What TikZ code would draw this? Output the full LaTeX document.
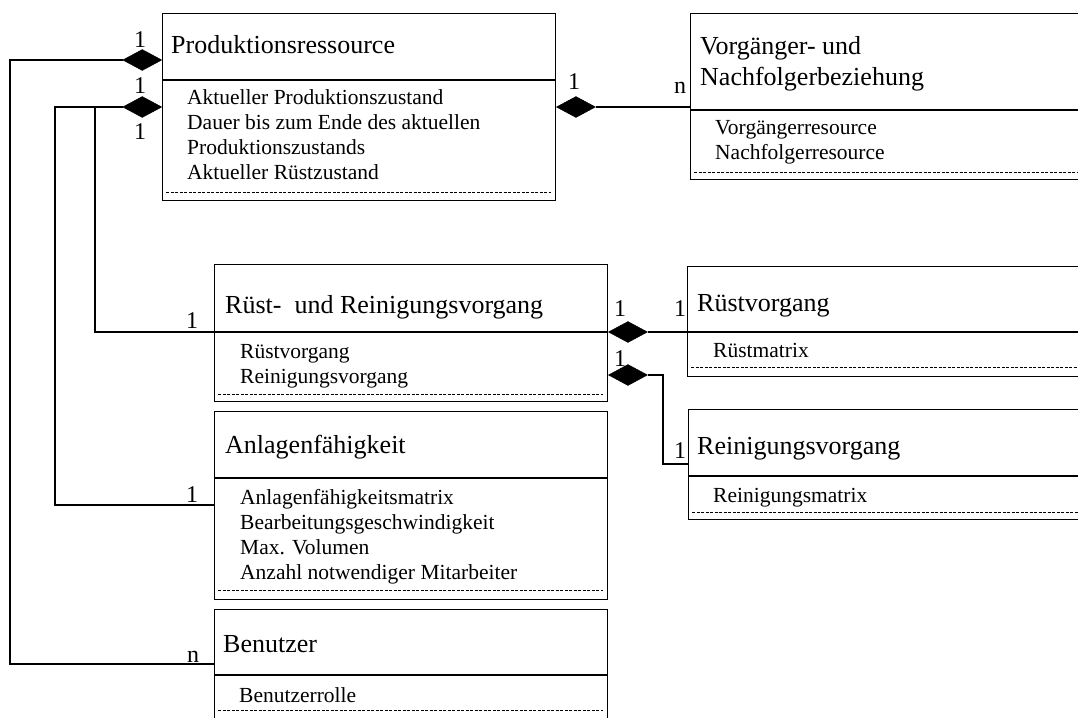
\documentclass[tikz,border=0pt]{standalone}
\usepackage{fontspec}
\setmainfont{Liberation Serif}
\usetikzlibrary{shapes.geometric}
\begin{document}
\begin{tikzpicture}[x=1pt,y=-1pt,
  box/.style={draw=black, line width=1.2pt, rectangle, anchor=north west, inner sep=0pt},
  divline/.style={draw=black, line width=1.2pt},
  dashline/.style={draw=black, line width=1pt, dash pattern=on 3pt off 1.5pt},
  conn/.style={draw=black, line width=2pt},
  dia/.style={diamond, fill=black, draw=black, line width=0.5pt, inner sep=0pt, minimum width=39pt, minimum height=21pt},
  ttl/.style={anchor=base west, inner sep=0pt, font=\fontsize{26}{31}\selectfont, align=left},
  attr/.style={anchor=base west, inner sep=0pt, font=\fontsize{21.5}{25}\selectfont},
  lbl/.style={anchor=base, inner sep=0pt, font=\fontsize{24}{28}\selectfont}]
\useasboundingbox (0,0) rectangle (1078,717);
\clip (0,0) rectangle (1078,717);
\fill[white] (0,0) rectangle (1078,717);

% ---------- Produktionsressource
\node[box, minimum width=393pt, minimum height=187pt] (pr) at (162,13) {};
\draw[divline] (pr.west |- 0,80) -- (pr.east |- 0,80);
\node[ttl] (prt) at (171,53) {Produktionsressource};
\node[attr] (pra1) at (187,104) {Aktueller Produktionszustand};
\node[attr] (pra2) at (187,129) {Dauer bis zum Ende des aktuellen};
\node[attr] (pra3) at (187,154) {Produktionszustands};
\node[attr] (pra4) at (187,179) {Aktueller Rüstzustand};
\draw[dashline] (166,192) -- (551,192);

% ---------- Vorgaenger- und Nachfolgerbeziehung
\node[box, minimum width=420pt, minimum height=166pt] (vn) at (690,13) {};
\draw[divline] (vn.west |- 0,110) -- (1078,110);
\node[ttl] (vnt) at (700,85) {Vorgänger- und\\Nachfolgerbeziehung};
\node[attr] (vna1) at (715,134) {Vorgängerresource};
\node[attr] (vna2) at (715,159) {Nachfolgerresource};
\draw[dashline] (694,172) -- (1078,172);

% ---------- Ruest- und Reinigungsvorgang
\node[box, minimum width=393pt, minimum height=137pt] (rr) at (214,264) {};
\draw[divline] (rr.west |- 0,332) -- (rr.east |- 0,332);
\node[ttl] (rrt) at (225,313) {Rüst-\ \ und Reinigungsvorgang};
\node[attr] (rra1) at (240,358) {Rüstvorgang};
\node[attr] (rra2) at (240,383) {Reinigungsvorgang};
\draw[dashline] (218,394) -- (603,394);

% ---------- Anlagenfaehigkeit
\node[box, minimum width=393pt, minimum height=188pt] (af) at (214,411) {};
\draw[divline] (af.west |- 0,478) -- (af.east |- 0,478);
\node[ttl] (aft) at (225,453) {Anlagenfähigkeit};
\node[attr] (afa1) at (240,504) {Anlagenfähigkeitsmatrix};
\node[attr] (afa2) at (240,529) {Bearbeitungsgeschwindigkeit};
\node[attr] (afa3) at (240,554) {Max. Volumen};
\node[attr] (afa4) at (240,579) {Anzahl notwendiger Mitarbeiter};
\draw[dashline] (218,590) -- (603,590);

% ---------- Benutzer
\node[box, minimum width=393pt, minimum height=130pt] (be) at (214,609) {};
\draw[divline] (be.west |- 0,675) -- (be.east |- 0,675);
\node[ttl] (bet) at (223,652) {Benutzer};
\node[attr] (bea1) at (239,702) {Benutzerrolle};
\draw[dashline] (218,710) -- (603,710);

% ---------- Ruestvorgang
\node[box, minimum width=420pt, minimum height=110pt] (rv) at (687,266) {};
\draw[divline] (rv.west |- 0,332) -- (1078,332);
\node[ttl] (rvt) at (697,311) {Rüstvorgang};
\node[attr] (rva1) at (713,357) {Rüstmatrix};
\draw[dashline] (691,367) -- (1078,367);

% ---------- Reinigungsvorgang
\node[box, minimum width=420pt, minimum height=110pt] (rg) at (688,409) {};
\draw[divline] (rg.west |- 0,476) -- (1078,476);
\node[ttl] (rgt) at (697,454) {Reinigungsvorgang};
\node[attr] (rga1) at (713,502) {Reinigungsmatrix};
\draw[dashline] (692,512) -- (1078,512);

% ---------- diamonds
\node[dia, anchor=east] (d1) at (pr.west |- 0,60) {};
\node[dia, anchor=east] (d2) at (pr.west |- 0,107) {};
\node[dia, anchor=west] (d3) at (pr.east |- 0,107) {};
\node[dia, anchor=west] (d4) at (rr.east |- 0,332) {};
\node[dia, anchor=west] (d5) at (rr.east |- 0,375) {};

% ---------- connectors
\draw[conn] (d1.west) -| (10,664) -- (be.west |- 0,664);
\draw[conn] (d2.west) -| (55,505) -- (af.west |- 0,505);
\draw[conn] (d2.west) -| (95,332) -- (rr.west |- 0,332);
\draw[conn] (d3.east) -- (vn.west |- d3.east);
\draw[conn] (d4.east) -- (rv.west |- d4.east);
\draw[conn] (d5.east) -| (663,464) -- (rg.west |- 0,464);

% ---------- multiplicities
\node[lbl] (m1) at (140,48) {1};
\node[lbl] (m2) at (140,93) {1};
\node[lbl] (m3) at (140,139) {1};
\node[lbl] (m4) at (574,89) {1};
\node[lbl] (m5) at (680,93) {n};
\node[lbl] (m6) at (192,328) {1};
\node[lbl] (m7) at (192,502) {1};
\node[lbl] (m8) at (193,662) {n};
\node[lbl] (m9) at (620,316) {1};
\node[lbl] (m10) at (680,316) {1};
\node[lbl] (m11) at (620,366) {1};
\node[lbl] (m12) at (680,458) {1};
\end{tikzpicture}
\end{document}
